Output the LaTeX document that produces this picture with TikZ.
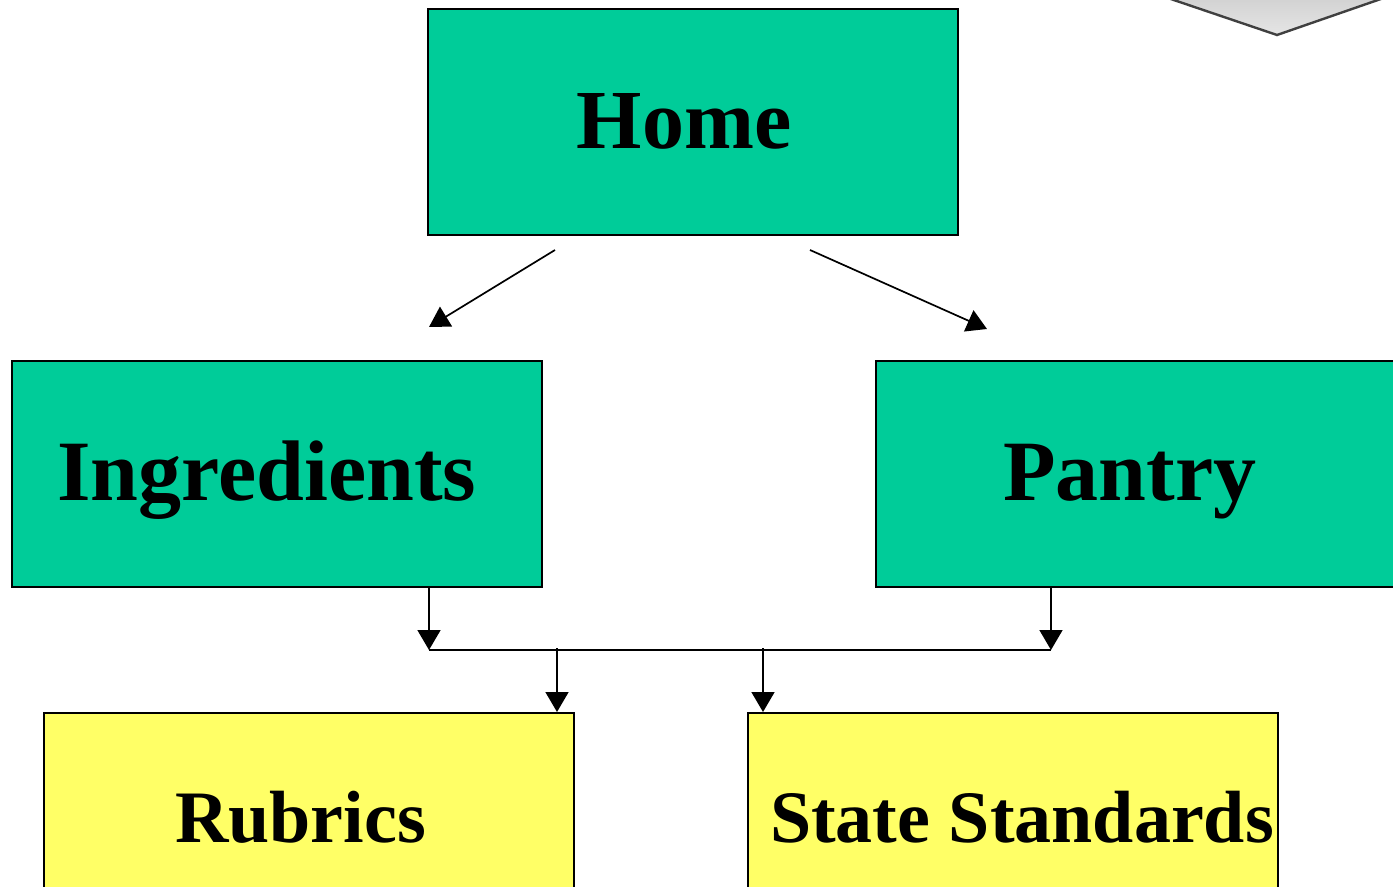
\documentclass[tikz,border=0pt]{standalone}
\usepackage{fontspec}
\setmainfont{Liberation Serif}
\usepackage{xcolor}
\usetikzlibrary{arrows.meta, calc}

\definecolor{boxteal}{HTML}{00CC99}
\definecolor{boxyellow}{HTML}{FFFF66}

\begin{document}
\begin{tikzpicture}[x=0.5pt, y=-0.5pt,
    pagebox/.style={draw=black, line width=1pt, minimum width=265pt, minimum height=113pt, inner sep=0pt},
    mainpage/.style={pagebox, fill=boxteal, font=\bfseries\fontsize{43}{46}\selectfont, text height=34pt, text depth=7pt},
    infopage/.style={pagebox, fill=boxyellow, font=\bfseries\fontsize{37}{40}\selectfont, text height=28pt, text depth=12pt},
    linkarrow/.style={line width=0.85pt, -{Triangle[length=10pt, width=11.5pt]}}]
\useasboundingbox (0,0) rectangle (1393,887);

% Corner shape (top right)
\draw[line width=1.2pt, black!75, top color=gray!45, bottom color=gray!20] (1100,-25) -- (1277,35) -- (1450,-25);

% Top page
\node[mainpage, font=\bfseries\fontsize{42}{46}\selectfont] (home) at (693,122) {Home\kern9pt};

% Second level
\node[mainpage] (ingred) at (277,474) {Ingredients\kern10pt};
\node[mainpage] (pantry) at (1141,474) {Pantry\kern11pt};

% Third level
\node[infopage] (rubrics) at (309,826) {Rubrics\kern8.5pt};
\node[infopage] (standards) at (1013,826) {\kern9pt State Standards};

% Connector points
\coordinate (homeL) at ($(home.south west)+(128,14)$);
\coordinate (homeR) at ($(home.south west)+(383,14)$);
\coordinate (ingredT) at ($(ingred.north east)+(-114,-33)$);
\coordinate (pantryT) at ($(pantry.north west)+(112,-31)$);
\coordinate (busL) at ($(ingred.south east)+(-114,62)$);
\coordinate (busR) at ($(pantry.south west)+(176,62)$);
\coordinate (busA) at ($(rubrics.north east)+(-18,-64)$);
\coordinate (busB) at ($(standards.north west)+(16,-64)$);

% Links
\draw[linkarrow] (homeL) -- (ingredT);
\draw[linkarrow] (homeR) -- (pantryT);
\draw[linkarrow] (ingred.south east -| busL) -- (busL);
\draw[linkarrow] (pantry.south west -| busR) -- (busR);
\draw[line width=0.85pt] (busL) -- (busR);
\draw[linkarrow] (busA) -- (rubrics.north east -| busA);
\draw[linkarrow] (busB) -- (standards.north west -| busB);
\end{tikzpicture}
\end{document}
